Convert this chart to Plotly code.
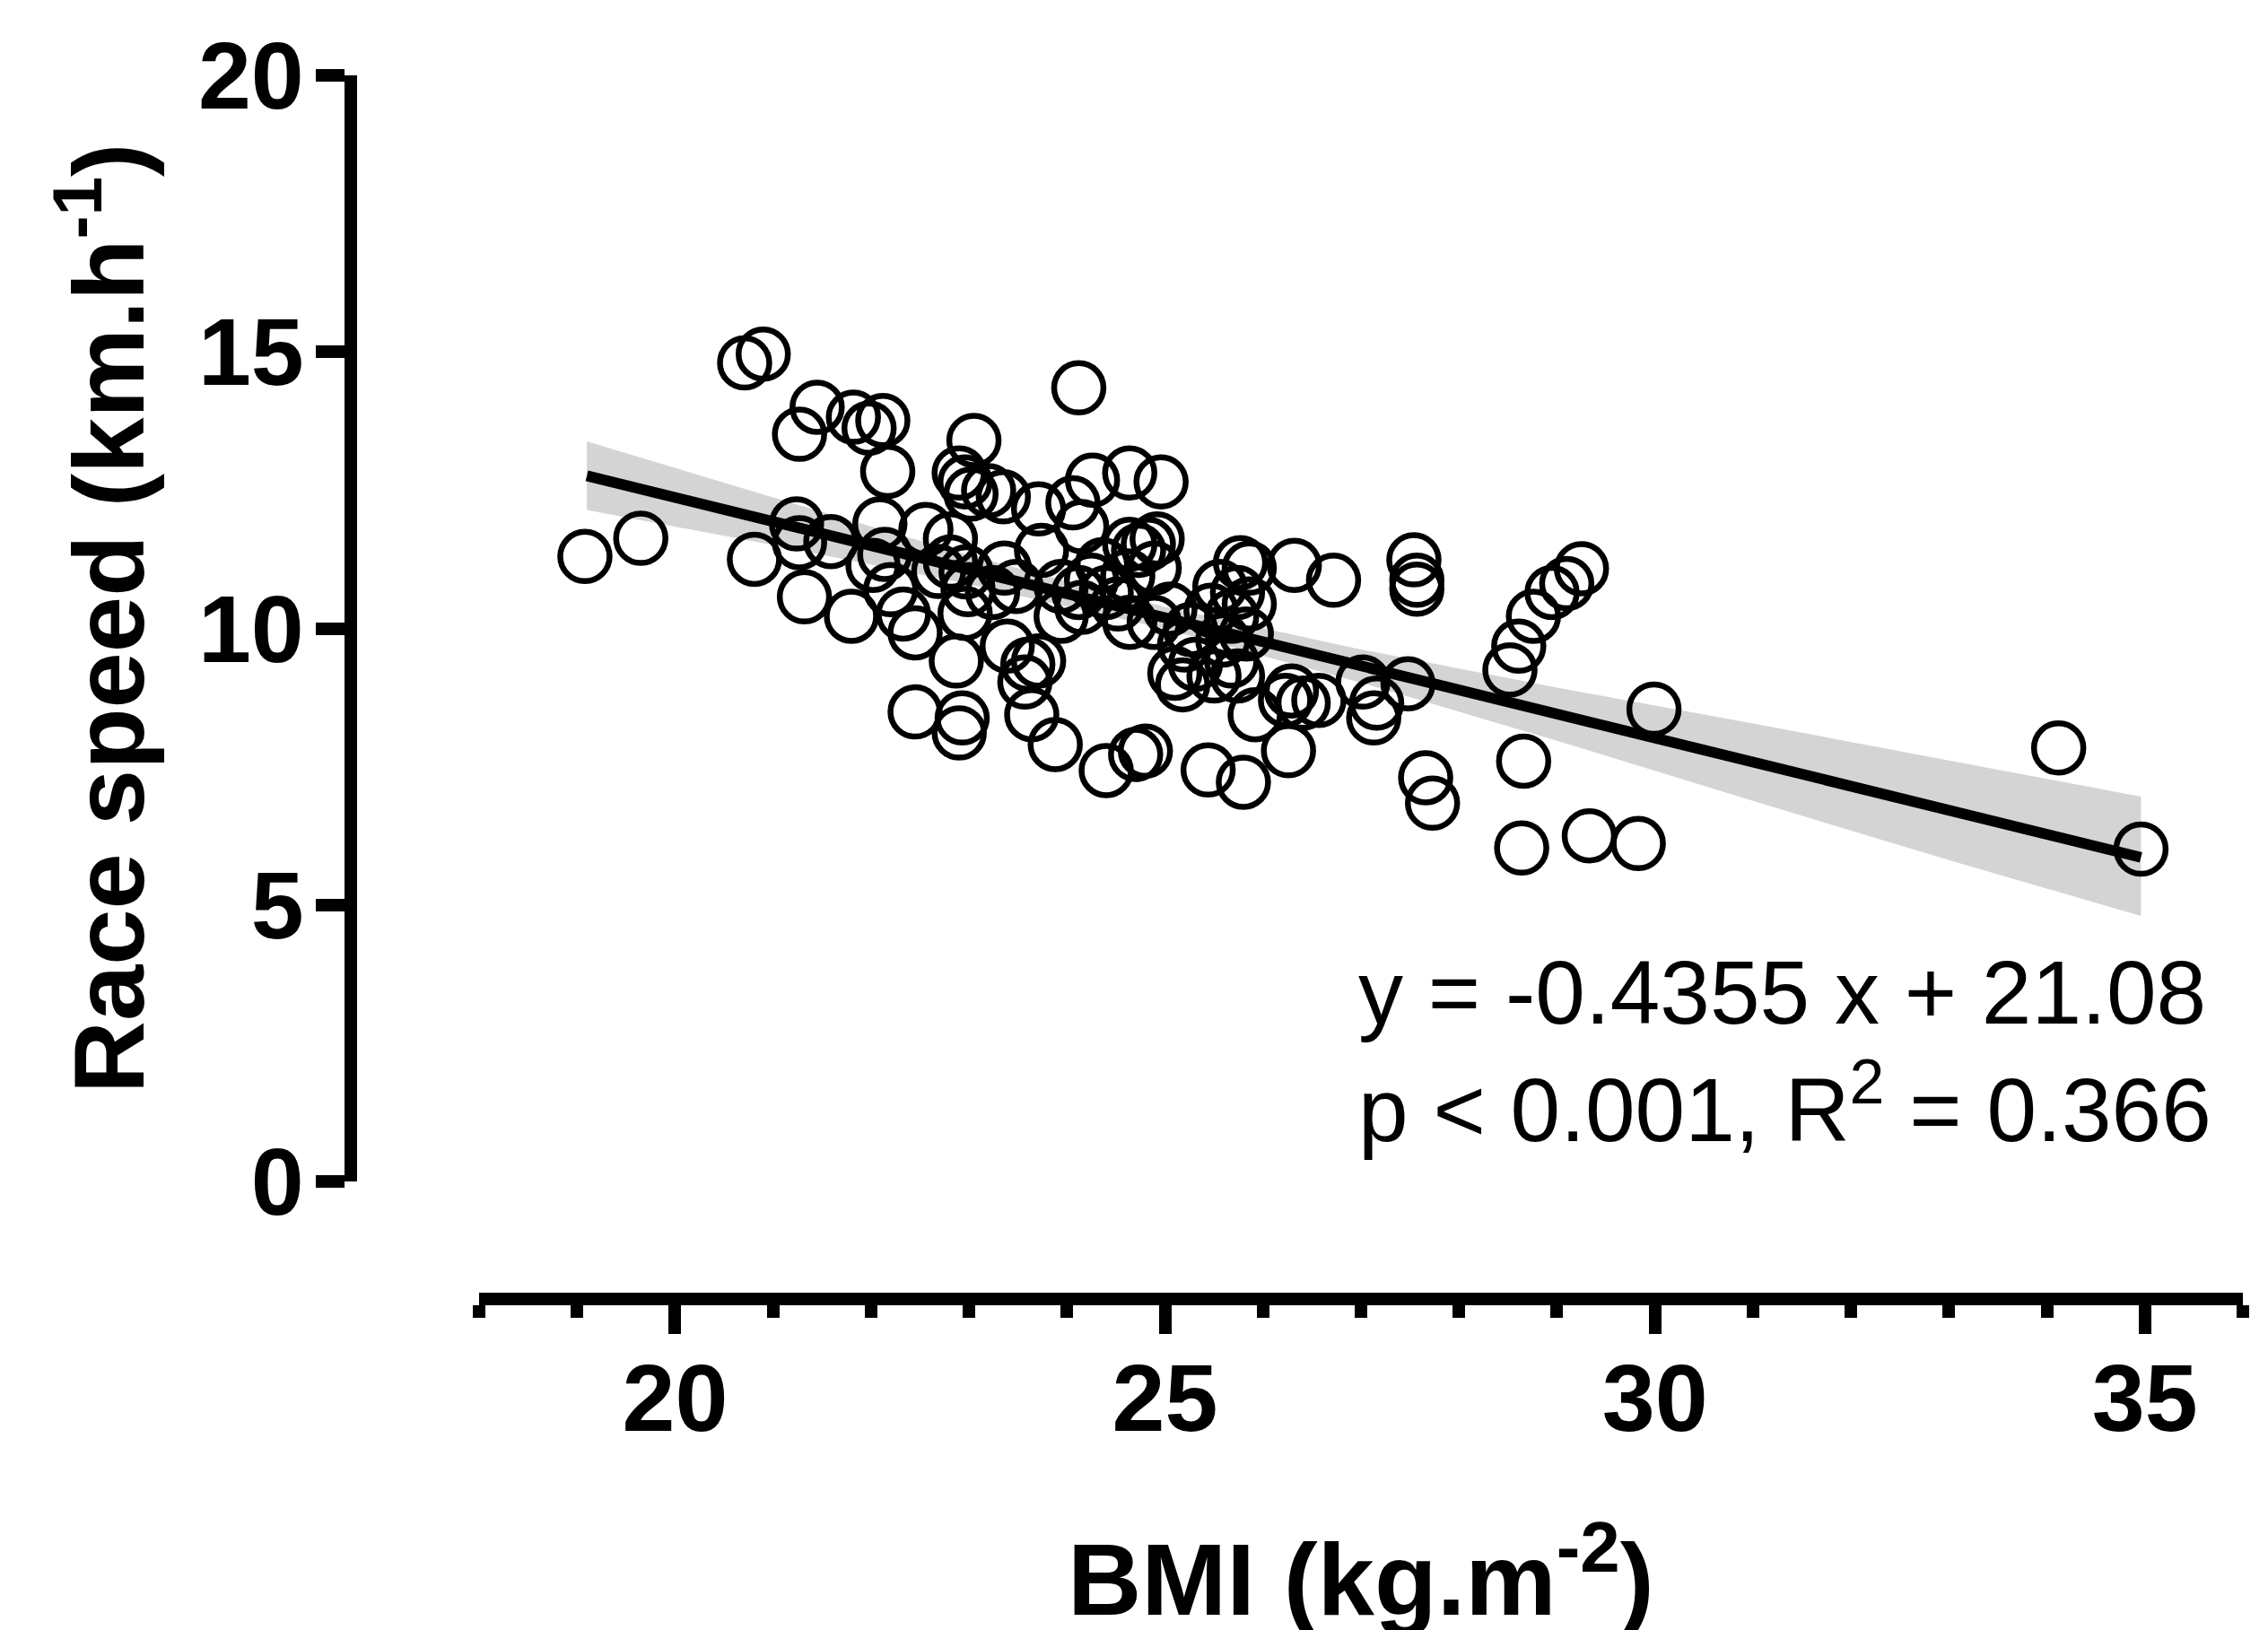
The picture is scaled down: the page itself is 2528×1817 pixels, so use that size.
import plotly.graph_objects as go

# ---- data ----
bmi = [19.08, 19.65, 20.71, 20.90, 20.81, 21.27, 21.45, 21.24, 21.27, 21.59,
       21.32, 21.80, 21.82, 21.98, 22.12, 22.17, 22.09, 22.02, 22.20, 22.14,
       22.33, 22.45, 22.45, 22.56, 22.81, 22.69, 22.87, 22.90, 22.96, 23.02,
       23.05, 22.93, 22.90, 22.97, 22.96, 22.99, 23.20, 23.35, 23.36, 23.48,
       23.24, 23.39, 23.60, 23.71, 23.57, 23.64, 23.88, 23.71, 23.74, 24.06,
       24.12, 24.15, 24.26, 24.64, 24.96, 24.64, 24.73, 24.83, 24.89, 24.92,
       23.94, 24.12, 24.25, 24.40, 24.52, 23.94, 24.15, 24.64, 24.89, 24.40,
       24.70, 24.80, 25.44, 25.80, 25.10, 25.18, 25.77, 25.86, 25.56, 25.74,
       25.86, 25.47, 25.68, 25.83, 25.59, 25.68, 25.74, 25.50, 25.31, 26.32,
       26.72, 25.92, 26.23, 26.29, 26.41, 26.26, 26.57, 27.02, 27.16, 27.13,
       27.48, 27.54, 27.57, 27.57, 27.66, 27.73, 28.52, 28.61, 28.76, 28.95,
       29.10, 29.25, 28.66, 28.64, 29.33, 29.83, 29.99, 34.12, 34.96, 25.26,
       25.05, 25.20, 24.36, 24.62, 22.81]
speed = [11.30, 11.63, 14.80, 14.96, 11.25, 13.51, 14.00, 11.89, 11.55, 11.57,
         10.57, 10.22, 13.82, 13.62, 13.76, 12.84, 11.89, 11.14, 10.70, 11.34,
         10.26, 9.92, 8.49, 11.79, 11.62, 11.03, 9.41, 12.81, 12.65, 12.43,
         13.40, 8.38, 8.11, 11.02, 10.27, 10.70, 12.49, 12.38, 11.09, 10.76,
         10.65, 9.68, 9.35, 9.41, 9.03, 8.44, 7.90, 12.16, 11.41, 12.27,
         14.35, 11.84, 12.68, 12.81, 12.65, 11.52, 11.41, 11.52, 11.09, 11.62,
         10.76, 10.65, 10.87, 10.65, 10.44, 10.22, 10.38, 10.11, 10.11, 7.43,
         7.72, 7.78, 7.44, 7.22, 9.19, 8.98, 11.19, 11.09, 10.76, 10.65,
         10.44, 10.33, 10.22, 9.90, 9.79, 9.41, 9.14, 9.14, 9.35, 11.14,
         10.87, 8.44, 8.70, 8.87, 8.65, 7.79, 8.70, 9.03, 8.65, 8.38,
         9.00, 11.24, 10.87, 10.71, 7.30, 6.84, 9.25, 9.68, 10.22, 10.65,
         10.81, 11.08, 7.60, 6.03, 6.25, 6.11, 8.54, 7.84, 6.01, 9.98,
         10.35, 9.70, 11.15, 10.95, 11.20]

fit_x = [19.1, 34.96]
fit_y = [12.76, 5.86]

band_x = [19.1, 21, 23, 25, 27, 29, 31, 33, 34.96]
band_upper = [13.38, 12.37, 11.32, 10.39, 9.62, 8.93, 8.28, 7.61, 6.96]
band_lower = [12.14, 11.51, 10.80, 9.99, 9.02, 7.97, 6.88, 5.81, 4.80]

x_range = [18, 36]
y_range = [0, 20]

eq_line1 = "y = -0.4355 x + 21.08"
eq_line2 = "p < 0.001, R<sup>2</sup> = 0.366"
x_title = "BMI (kg.m<sup>-2</sup>)"
y_title = "Race speed (km.h<sup>-1</sup>)"

# ---- layout geometry ----
# the page body has an 8 px default margin; figure pixels = page pixels - 8
OFF = 8
W, H = 2528 - OFF, 1817 - OFF
AX_Y_X = 391 - OFF        # y-axis line (page x 391)
AX_X_Y = 1448 - OFF       # x-axis line (page y 1448)
Y_TOP = 84 - OFF          # value 20
Y_ZERO = 1317 - OFF       # value 0
X_LEFT = 534 - OFF        # value 18
X_RIGHT = 2500 - OFF      # value 36

L, R, T, B = AX_Y_X, W - X_RIGHT, Y_TOP, H - AX_X_Y
pw = W - L - R
ph = H - T - B


def paper_x(page_px):
    return (page_px - OFF - L) / pw


def paper_y(page_py):
    return (H - B - (page_py - OFF)) / ph


FONT = "Arial, Liberation Sans, Helvetica, sans-serif"

fig = go.Figure()

fig.add_trace(go.Scatter(
    x=band_x + band_x[::-1],
    y=band_upper + band_lower[::-1],
    fill="toself", fillcolor="#d4d4d4",
    line=dict(width=0), mode="lines",
    hoverinfo="skip", showlegend=False,
))

fig.add_trace(go.Scatter(
    x=bmi, y=speed, mode="markers",
    marker=dict(size=55, color="rgba(0,0,0,0)",
                line=dict(color="black", width=6.5)),
    showlegend=False,
))

fig.add_trace(go.Scatter(
    x=fit_x, y=fit_y, mode="lines",
    line=dict(color="black", width=12),
    showlegend=False,
))

axis_common = dict(
    showline=True, linecolor="black", linewidth=14,
    ticks="outside", tickcolor="black", tickwidth=14,
    showgrid=False, zeroline=False,
    tickfont=dict(family=FONT, size=106, color="black", weight="bold"),
)

fig.update_layout(
    width=W, height=H,
    margin=dict(l=L, r=R, t=T, b=B, pad=0),
    paper_bgcolor="white", plot_bgcolor="white",
    xaxis=dict(
        range=x_range, domain=[(X_LEFT - L) / pw, 1],
        anchor="free", position=0,
        tick0=0, dtick=5, ticklen=32,
        minor=dict(ticks="outside", dtick=1, ticklen=14,
                   tickwidth=14, tickcolor="black"),
        ticklabelstandoff=-19,
        automargin=False,
        **axis_common,
    ),
    yaxis=dict(
        range=y_range, domain=[(AX_X_Y - Y_ZERO) / ph, 1],
        anchor="free", position=0,
        tick0=0, dtick=5, ticklen=32,
        ticklabelstandoff=-8,
        automargin=False,
        **axis_common,
    ),
    annotations=[
        dict(text=eq_line1, xref="paper", yref="paper",
             x=paper_x(1512), y=paper_y(1106), xanchor="left", yanchor="middle",
             showarrow=False,
             font=dict(family=FONT, size=100, color="black")),
        dict(text=eq_line2, xref="paper", yref="paper",
             x=paper_x(1512), y=paper_y(1230), xanchor="left", yanchor="middle",
             showarrow=False,
             font=dict(family=FONT, size=100, color="black")),
        dict(text=x_title, xref="paper", yref="paper",
             x=paper_x(1517), y=paper_y(1752), xanchor="center", yanchor="middle",
             showarrow=False,
             font=dict(family=FONT, size=114, color="black", weight="bold")),
        dict(text=y_title, xref="paper", yref="paper",
             x=paper_x(113), y=paper_y(690), xanchor="center", yanchor="middle",
             textangle=-90, showarrow=False,
             font=dict(family=FONT, size=112, color="black", weight="bold")),
    ],
)

fig.write_html("out.html")
